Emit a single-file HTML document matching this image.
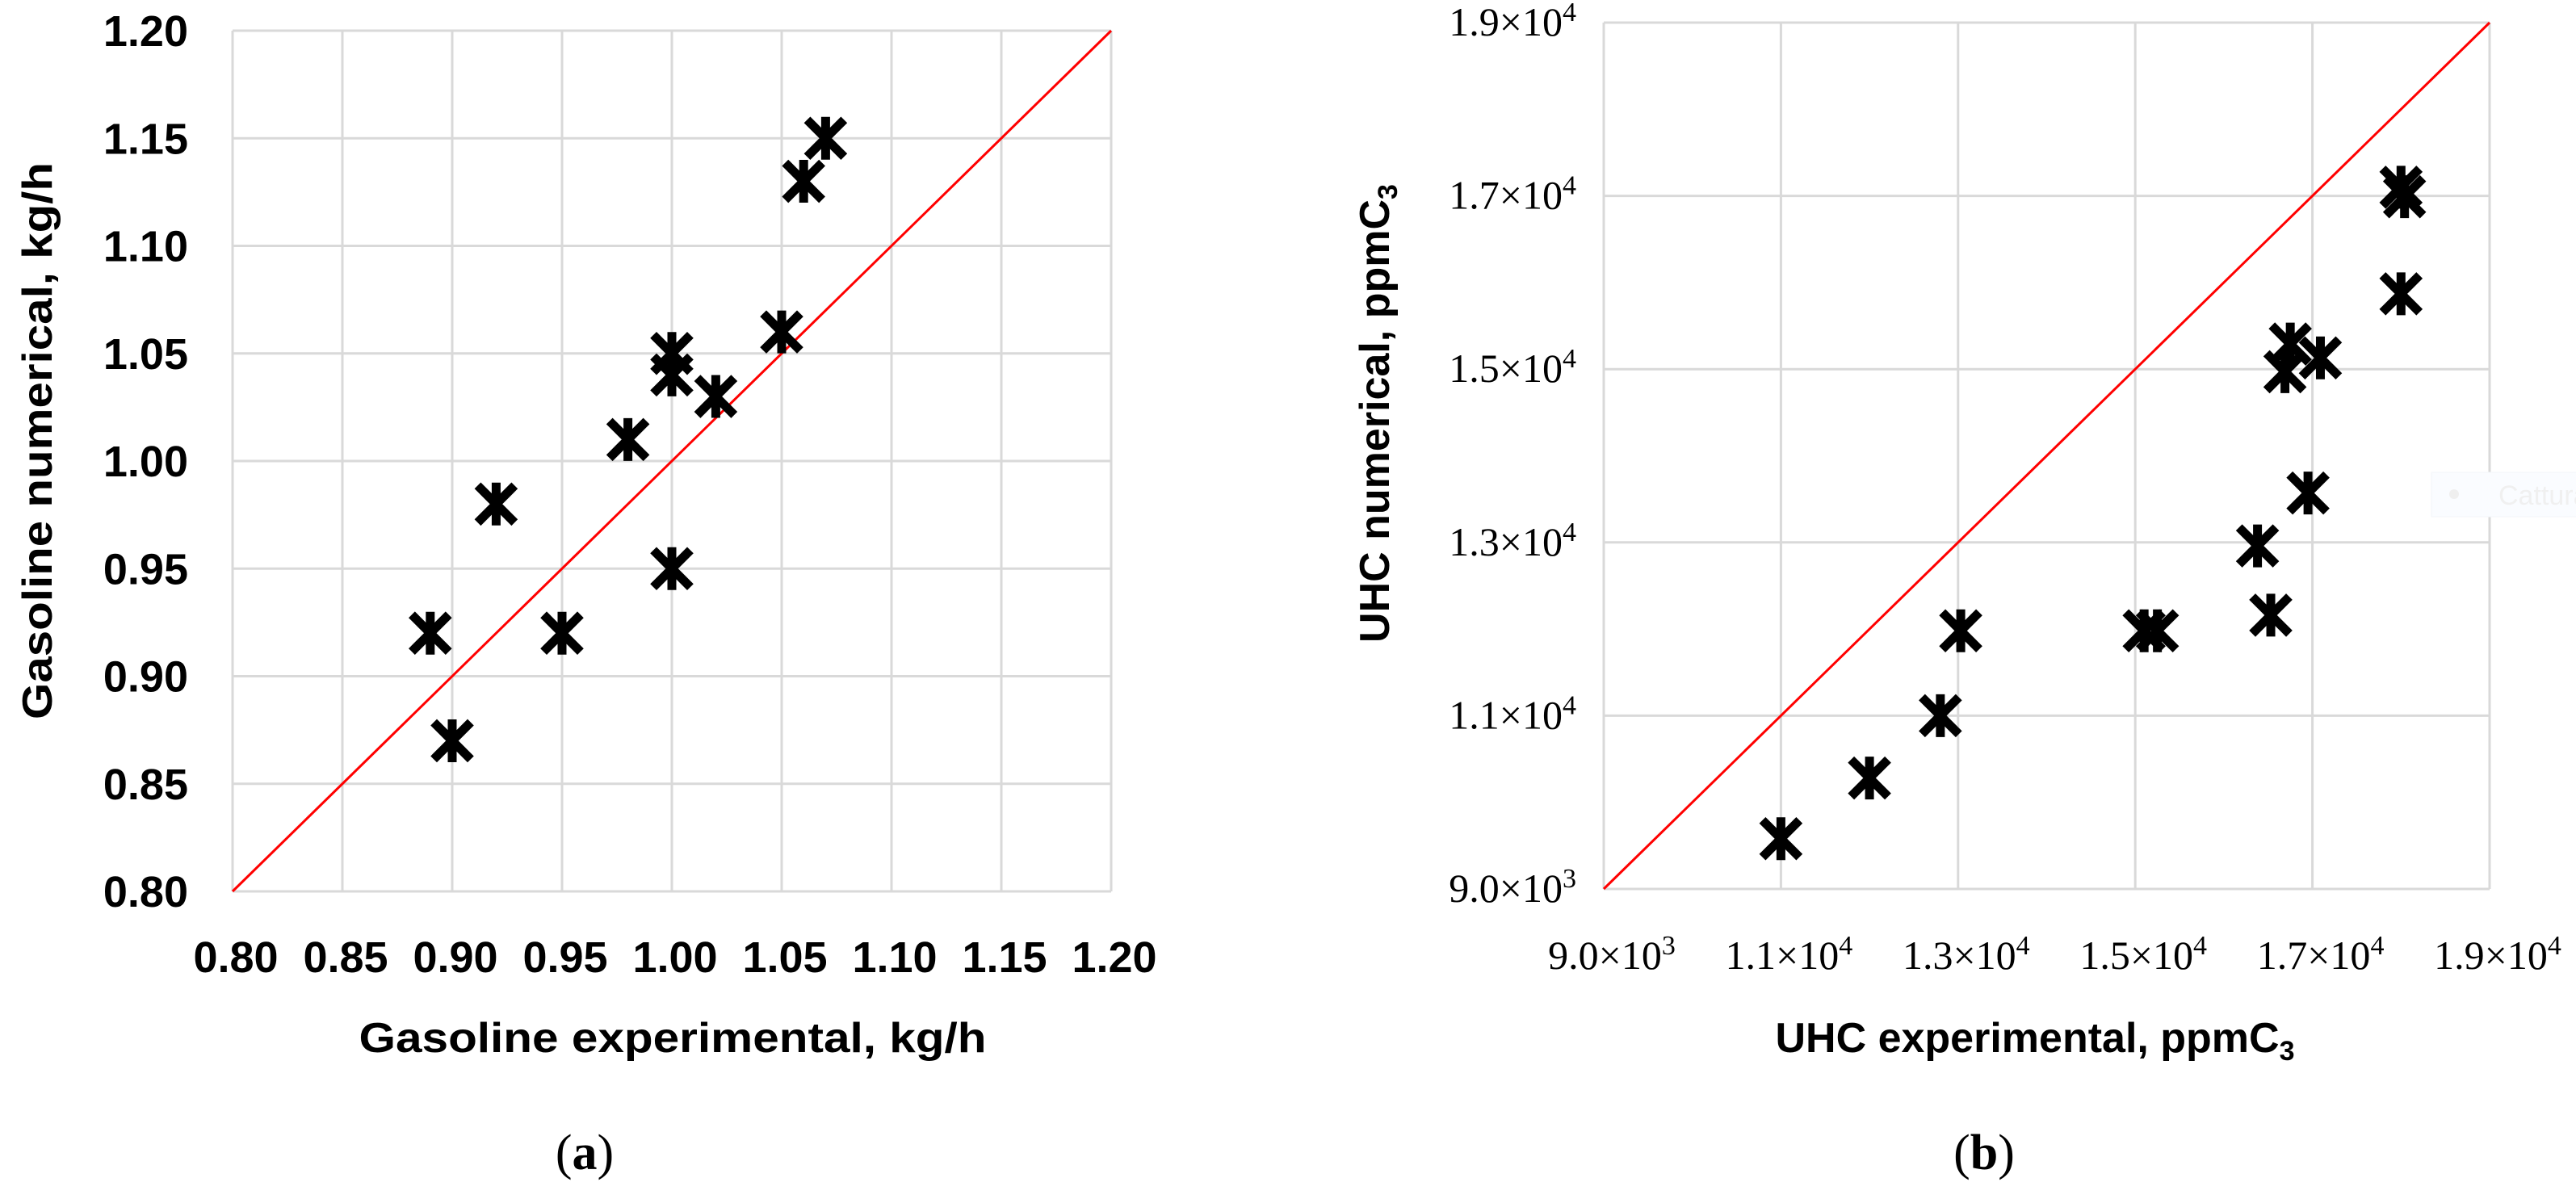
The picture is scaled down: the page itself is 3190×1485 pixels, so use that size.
<!DOCTYPE html>
<html><head><meta charset="utf-8">
<style>
html,body{margin:0;padding:0;background:#fff;}
svg{display:block;}
</style></head>
<body>
<svg id="fig" width="3190" height="1485" viewBox="0 0 3190 1485" xmlns="http://www.w3.org/2000/svg">
<g id="chartA"></g>
<g id="chartB"></g>
<text x="724" y="1448" font-family="Liberation Serif, serif" font-size="62" text-anchor="middle">(<tspan font-weight="bold">a</tspan>)</text>
<text x="2457" y="1448" font-family="Liberation Serif, serif" font-size="62" text-anchor="middle">(<tspan font-weight="bold">b</tspan>)</text>
<g>
<rect x="3011" y="585" width="180" height="55" fill="#fafcff" stroke="#f3f6fa"/>
<circle cx="3039" cy="612" r="6" fill="#efefef"/>
<text x="3094" y="625" font-family="Liberation Sans, sans-serif" font-size="34" fill="#f0f0f0">Cattura</text>
</g>
</svg>
<script>
// ---- Chart A data ----
const aExp = [0.89, 0.90, 0.92, 0.95, 0.98, 1.00, 1.00, 1.00, 1.02, 1.05, 1.06, 1.07];
const aNum = [0.92, 0.87, 0.98, 0.92, 1.01, 1.05, 1.04, 0.95, 1.03, 1.06, 1.13, 1.15];
const aTicks = [0.80, 0.85, 0.90, 0.95, 1.00, 1.05, 1.10, 1.15, 1.20];
const aTickLabels = ["0.80","0.85","0.90","0.95","1.00","1.05","1.10","1.15","1.20"];
// ---- Chart B data ----
const bExp = [11000, 12000, 12800, 13030, 15100, 15250, 16380, 16530, 16690, 16750, 17090, 16950, 18000, 18000, 18040];
const bNum = [9580, 10280, 11000, 11980, 11980, 11980, 12960, 12160, 14970, 15290, 15130, 13570, 15870, 17100, 16990];
const bTicks = [9000, 11000, 13000, 15000, 17000, 19000];
const bTickMant = ["9.0", "1.1", "1.3", "1.5", "1.7", "1.9"];
const bTickExp = ["3", "4", "4", "4", "4", "4"];

const NS = "http://www.w3.org/2000/svg";
function mk(parent, tag, attrs, text){
  const e = document.createElementNS(NS, tag);
  for (const k in attrs) e.setAttribute(k, attrs[k]);
  if (text !== undefined) e.textContent = text;
  parent.appendChild(e);
  return e;
}
function marker(g, cx, cy){
  const m = mk(g, "g", {stroke:"#000","stroke-width":"11","stroke-linecap":"square"});
  
  
  const s = 19;
  mk(m, "line", {x1:cx-s,y1:cy-s,x2:cx+s,y2:cy+s});
  mk(m, "line", {x1:cx-s,y1:cy+s,x2:cx+s,y2:cy-s});
  mk(m, "line", {x1:cx,y1:cy-s-2,x2:cx,y2:cy+s+2});
}

// ===== Chart A =====
(function(){
  const g = document.getElementById("chartA");
  const L=288, R=1376, T=38, B=1104, min=0.80, max=1.20;
  const xs = v => L + (v-min)/(max-min)*(R-L);
  const ys = v => B - (v-min)/(max-min)*(B-T);
  const grid = mk(g,"g",{stroke:"#d9d9d9","stroke-width":"3"});
  
  
  aTicks.forEach(t=>{
    mk(grid,"line",{x1:xs(t),y1:T,x2:xs(t),y2:B});
    mk(grid,"line",{x1:L,y1:ys(t),x2:R,y2:ys(t)});
  });
  const ytl = mk(g,"g",{"font-family":"Liberation Sans, sans-serif","font-weight":"bold","font-size":"54","text-anchor":"end"});
  
  
  aTicks.forEach((t,i)=>{ mk(ytl,"text",{x:233,y:ys(t)+19},aTickLabels[i]); });
  const xtl = mk(g,"g",{"font-family":"Liberation Sans, sans-serif","font-weight":"bold","font-size":"54","text-anchor":"middle"});
  
  
  aTicks.forEach((t,i)=>{ mk(xtl,"text",{x:xs(t)+4,y:1204},aTickLabels[i]); });
  const diag = mk(g,"line",{x1:xs(0.80),y1:ys(0.80),x2:xs(1.20),y2:ys(1.20),stroke:"#ff0000","stroke-width":"3"});
  
  
  const pts = mk(g,"g",{});
  
  
  aExp.forEach((v,i)=>marker(pts, xs(v), ys(aNum[i])));
  const xt = mk(g,"text",{x:833,y:1303,"font-family":"Liberation Sans, sans-serif","font-weight":"bold","font-size":"52","text-anchor":"middle",textLength:"777",lengthAdjust:"spacingAndGlyphs"},"Gasoline  experimental, kg/h");
  
  
  const yt = mk(g,"text",{x:0,y:0,transform:"translate(64,546) rotate(-90)","font-family":"Liberation Sans, sans-serif","font-weight":"bold","font-size":"52","text-anchor":"middle",textLength:"690",lengthAdjust:"spacingAndGlyphs"},"Gasoline  numerical,  kg/h");
  
  
})();

// ===== Chart B =====
(function(){
  const g = document.getElementById("chartB");
  const L=1986, R=3083, T=28, B=1101, min=9000, max=19000;
  const xs = v => L + (v-min)/(max-min)*(R-L);
  const ys = v => B - (v-min)/(max-min)*(B-T);
  const grid = mk(g,"g",{stroke:"#d9d9d9","stroke-width":"3"});
  
  
  bTicks.forEach(t=>{
    mk(grid,"line",{x1:xs(t),y1:T,x2:xs(t),y2:B});
    mk(grid,"line",{x1:L,y1:ys(t),x2:R,y2:ys(t)});
  });
  const ytl = mk(g,"g",{"font-family":"Liberation Serif, serif","font-size":"50","text-anchor":"end"});
  
  
  bTicks.forEach((t,i)=>{
    const tx = mk(ytl,"text",{x:1952,y:ys(t)+16});
    tx.appendChild(document.createTextNode(bTickMant[i]+"\u00d710"));
    mk(tx,"tspan",{"font-size":"34",dy:"-18"},bTickExp[i]);
  });
  const xtl = mk(g,"g",{"font-family":"Liberation Serif, serif","font-size":"50","text-anchor":"middle"});
  
  
  bTicks.forEach((t,i)=>{
    const tx = mk(xtl,"text",{x:xs(t)+10,y:1200});
    tx.appendChild(document.createTextNode(bTickMant[i]+"\u00d710"));
    mk(tx,"tspan",{"font-size":"34",dy:"-18"},bTickExp[i]);
  });
  const diag = mk(g,"line",{x1:xs(9000),y1:ys(9000),x2:xs(19000),y2:ys(19000),stroke:"#ff0000","stroke-width":"3"});
  
  
  const pts = mk(g,"g",{});
  
  
  bExp.forEach((v,i)=>marker(pts, xs(v), ys(bNum[i])));
  const xt = mk(g,"text",{x:2520,y:1303,"font-family":"Liberation Sans, sans-serif","font-weight":"bold","font-size":"52","text-anchor":"middle"});
  xt.appendChild(document.createTextNode("UHC  experimental,  ppmC"));
  mk(xt,"tspan",{"font-size":"34",dy:"10"},"3");
  
  
  const yt = mk(g,"text",{x:0,y:0,transform:"translate(1720,512) rotate(-90)","font-family":"Liberation Sans, sans-serif","font-weight":"bold","font-size":"52","text-anchor":"middle"});
  yt.appendChild(document.createTextNode("UHC  numerical,  ppmC"));
  mk(yt,"tspan",{"font-size":"34",dy:"10"},"3");
  
  
})();
</script>
</body></html>
